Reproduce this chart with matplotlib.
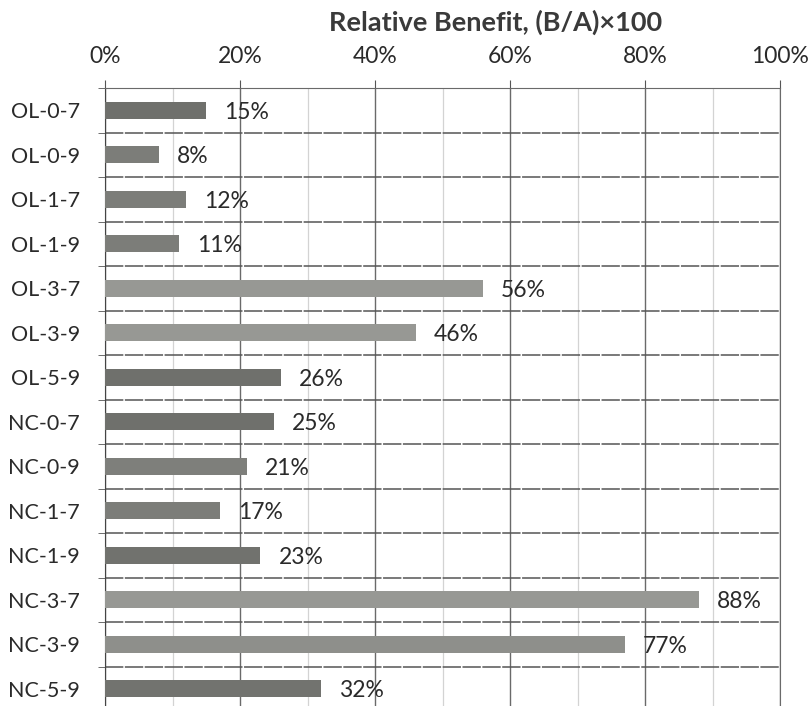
import numpy as np
import matplotlib.pyplot as plt
from matplotlib.ticker import MultipleLocator, FuncFormatter

plt.rcParams['font.family'] = ['Lato', 'DejaVu Sans']

# datos
categorias = ['OL-0-7', 'OL-0-9', 'OL-1-7', 'OL-1-9', 'OL-3-7', 'OL-3-9', 'OL-5-9',
              'NC-0-7', 'NC-0-9', 'NC-1-7', 'NC-1-9', 'NC-3-7', 'NC-3-9', 'NC-5-9']
beneficio = [15, 8, 12, 11, 56, 46, 26, 25, 21, 17, 23, 88, 77, 32]
colores = ['#6f706c', '#7c7d79', '#7c7d79', '#7c7d79', '#979894', '#979894', '#6f706c',
           '#6f706c', '#7e7f7b', '#7c7d79', '#71726e', '#979894', '#8e8f8b', '#72736f']

fig = plt.figure(figsize=(8.11, 7.06), dpi=100)
ax = fig.add_axes([105/811, -5/706, 675/811, 623/706])

y = np.arange(len(categorias))
ax.barh(y, beneficio, height=0.38, color=colores, zorder=3)

for yi, v in zip(y, beneficio):
    ax.text(v + 2.7, yi + 0.05, f'{v}%', va='center', ha='left', fontsize=16.5, color='#2a2a2a', zorder=4)

ax.set_xlim(0, 100)
ax.set_ylim(len(categorias) - 0.5, -0.5)

ax.xaxis.tick_top()
ax.xaxis.set_major_locator(MultipleLocator(20))
ax.xaxis.set_minor_locator(MultipleLocator(10))
ax.xaxis.set_major_formatter(FuncFormatter(lambda v, p: f'{v:.0f}%'))
ax.tick_params(axis='x', which='major', labelsize=16.5, length=6, pad=9, color='#555555', labelcolor='#2a2a2a')
ax.tick_params(axis='x', which='minor', length=0)

# titulo desplazado a la derecha como en el original
fig.text(496/811, 1 - 31/706, 'Relative Benefit, (B/A)×100', ha='center', va='baseline',
         fontsize=19.5, fontweight='bold', color='#3a3a3a')

ax.set_yticks(y)
ax.set_yticklabels(categorias)
ax.set_yticks(np.arange(-0.5, len(categorias)), minor=True)
ax.tick_params(axis='y', which='major', length=0, labelsize=15.5, pad=18, labelcolor='#2a2a2a')
ax.tick_params(axis='y', which='minor', length=5, color='#555555')

ax.grid(axis='x', which='major', color='#6a6a6a', linewidth=1.0, zorder=1)
ax.grid(axis='x', which='minor', color='#d3d3d3', linewidth=0.9, zorder=1)
ax.grid(axis='y', which='minor', color='#555555', linewidth=1.1, linestyle=(0, (12, 1)), zorder=1)

for lado in ['top', 'right']:
    ax.spines[lado].set_color('#6a6a6a')
ax.spines['left'].set_color('#444444')
ax.spines['bottom'].set_visible(False)

fig.savefig('out.png', dpi=100)
